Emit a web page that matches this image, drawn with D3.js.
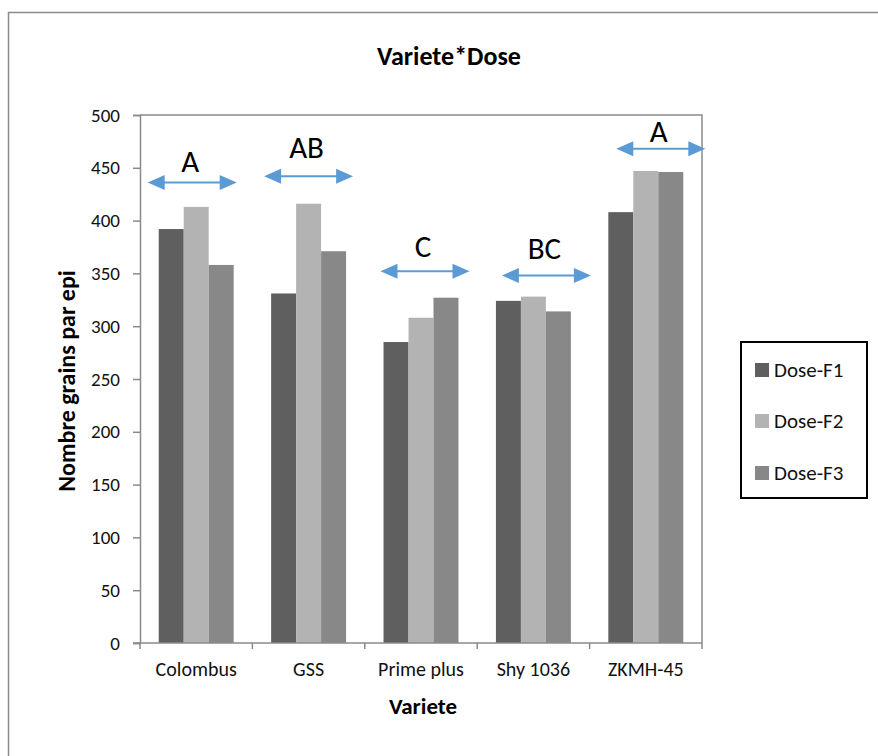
<!DOCTYPE html>
<html>
<head>
<meta charset="utf-8">
<script src="https://cdn.jsdelivr.net/npm/d3@7"></script>
<style>
  body { margin: 0; background: #fff; }
  svg { display: block; font-family: Carlito, Calibri, Lato, sans-serif; }
</style>
</head>
<body>
<script>
// data
var varietes = ["Colombus", "GSS", "Prime plus", "Shy 1036", "ZKMH-45"];
var doses = ["Dose-F1", "Dose-F2", "Dose-F3"];
var doseF1 = [392, 331, 285, 324, 408];
var doseF2 = [413, 416, 308, 328, 447];
var doseF3 = [358, 371, 327, 314, 446];
var yTicks = [0, 50, 100, 150, 200, 250, 300, 350, 400, 450, 500];
// significance groups: letter, arrow height and letter height (in axis units)
var groupLetters = ["A", "AB", "C", "BC", "A"];
var arrowLevel = [436, 442, 352, 348, 468];
var letterLevel = [446, 459, 366, 364, 474];

var colors = ["#5f5f5f", "#b3b3b3", "#888888"];
var series = [doseF1, doseF2, doseF3];

var W = 878, H = 756;
var svg = d3.select("body").append("svg").attr("width", W).attr("height", H);

// outer chart border (cut off at right/bottom)
svg.append("rect").attr("x", 8.5).attr("y", 12.5).attr("width", 900).attr("height", 800)
  .attr("fill", "none").attr("stroke", "#8a8a8a").attr("stroke-width", 1.5);

var x0 = d3.scaleBand().domain(varietes).range([140, 702]).paddingInner(0).paddingOuter(0);
var x1 = d3.scaleBand().domain(doses).range([0, x0.bandwidth()]).paddingOuter(0.75).paddingInner(0);
var y = d3.scaleLinear().domain([0, 500]).range([643, 115]);

// plot box top & right
svg.append("path").attr("d", "M140,115H702V643").attr("fill", "none").attr("stroke", "#8a8a8a").attr("stroke-width", 1.5);

// bars
doses.forEach(function (dname, s) {
  svg.append("g").selectAll("rect").data(series[s]).join("rect")
    .attr("x", function (d, i) { return x0(varietes[i]) + x1(dname); })
    .attr("y", function (d) { return y(d); })
    .attr("width", x1.bandwidth())
    .attr("height", function (d) { return y(0) - y(d); })
    .attr("fill", colors[s]);
});

// y axis
var yAxis = svg.append("g").attr("transform", "translate(140,0)")
  .call(d3.axisLeft(y).tickValues(yTicks).tickSize(7).tickPadding(13));
yAxis.attr("font-family", null);
yAxis.select(".domain").attr("stroke", "#8a8a8a").attr("stroke-width", 1.5);
yAxis.selectAll(".tick line").attr("stroke", "#8a8a8a").attr("stroke-width", 1.5);
yAxis.selectAll(".tick text").attr("font-size", 19).attr("fill", "#111");

// x axis: ticks between categories
var xAxisG = svg.append("g").attr("transform", "translate(0,643)");
xAxisG.append("line").attr("x1", 133).attr("x2", 702).attr("stroke", "#8a8a8a").attr("stroke-width", 1.5);
var bounds = varietes.map(function (v) { return x0(v); }).concat([x0.range()[1]]);
xAxisG.selectAll("line.tk").data(bounds).join("line").attr("class", "tk")
  .attr("x1", function (d) { return d; }).attr("x2", function (d) { return d; })
  .attr("y1", 0).attr("y2", 6).attr("stroke", "#8a8a8a").attr("stroke-width", 1.5);
xAxisG.selectAll("text").data(varietes).join("text")
  .attr("x", function (d) { return x0(d) + x0.bandwidth() / 2; })
  .attr("y", 33).attr("text-anchor", "middle").attr("font-size", 20).attr("fill", "#111")
  .text(function (d) { return d; });

// titles
svg.append("text").attr("x", 449).attr("y", 65).attr("text-anchor", "middle")
  .attr("font-size", 26).attr("font-weight", "bold").attr("fill", "#000").text("Variete*Dose");
svg.append("text").attr("x", 423).attr("y", 714).attr("text-anchor", "middle")
  .attr("font-size", 23).attr("font-weight", "bold").attr("fill", "#000").text("Variete");
svg.append("text").attr("transform", "translate(75,381) rotate(-90)").attr("text-anchor", "middle")
  .attr("font-size", 24).attr("font-weight", "bold").attr("fill", "#000").text("Nombre grains par epi");

// double arrows with group letters
var blue = "#5b9bd5";
var centreShift = [-4, 0, 4, 13, 15];
var groups = svg.append("g").selectAll("g").data(varietes).join("g")
  .attr("transform", function (d, i) {
    return "translate(" + (x0(d) + x0.bandwidth() / 2 + centreShift[i]) + "," + y(arrowLevel[i]) + ")";
  });
groups.append("line").attr("x1", -40).attr("x2", 40).attr("stroke", blue).attr("stroke-width", 2);
groups.append("path").attr("d", "M-44.5,0L-27.5,-7.5L-27.5,7.5Z").attr("fill", blue);
groups.append("path").attr("d", "M44.5,0L27.5,-7.5L27.5,7.5Z").attr("fill", blue);
svg.append("g").selectAll("text").data(varietes).join("text")
  .attr("x", function (d, i) { return x0(d) + x0.bandwidth() / 2 + centreShift[i] - 2; })
  .attr("y", function (d, i) { return y(letterLevel[i]); })
  .attr("text-anchor", "middle").attr("font-size", 31).attr("fill", "#000")
  .text(function (d, i) { return groupLetters[i]; });

// legend
var lg = svg.append("g");
lg.append("rect").attr("x", 741).attr("y", 342).attr("width", 126).attr("height", 156)
  .attr("fill", "#fff").attr("stroke", "#000").attr("stroke-width", 2);
var itemY = [370, 421, 473];
doses.forEach(function (dname, s) {
  lg.append("rect").attr("x", 755).attr("y", itemY[s] - 7).attr("width", 14).attr("height", 14).attr("fill", colors[s]);
  lg.append("text").attr("x", 774).attr("y", itemY[s] + 7).attr("font-size", 21).attr("fill", "#111").text(dname);
});
</script>
</body>
</html>
